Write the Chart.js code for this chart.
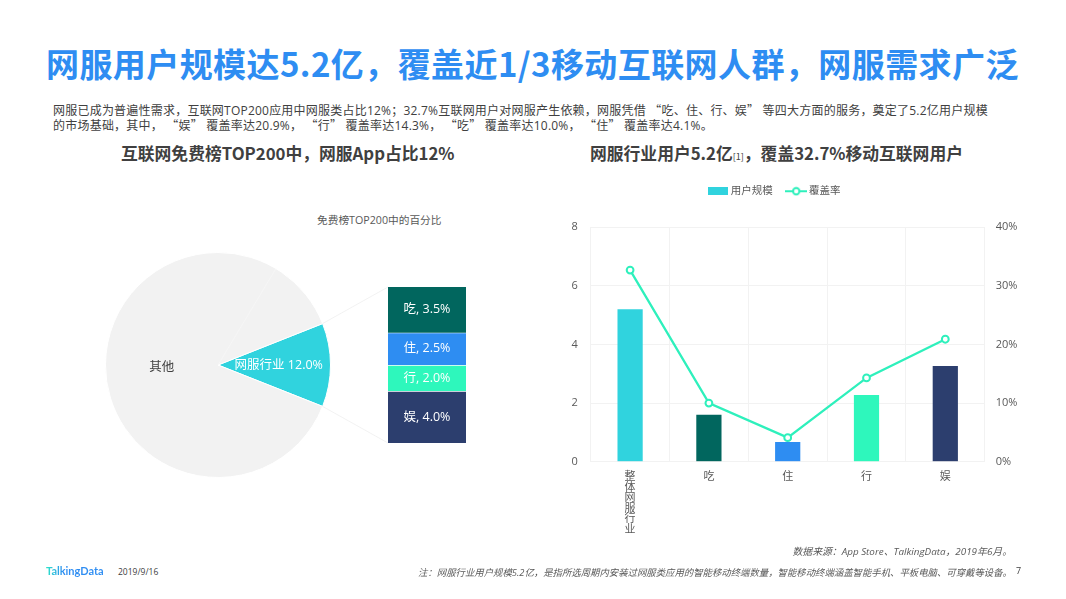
<!DOCTYPE html>
<html>
<head>
<meta charset="utf-8">
<script src="https://cdn.jsdelivr.net/npm/chart.js@4"></script>
<style>
html, body { margin: 0; padding: 0; background: #fff; width: 1066px; height: 599px; overflow: hidden; }
body { font-family: "Open Sans", "Noto Sans CJK SC", sans-serif; color: #404040; }
.t { position: absolute; white-space: nowrap; }
canvas { position: absolute; }
#title { left: 46px; top: 39px; font-size: 33px; letter-spacing: 0.42px; line-height: 48px; font-weight: 700; color: #2E8DF2; font-family: "Noto Sans CJK SC", sans-serif; }
#intro { left: 53px; top: 103px; font-size: 12px; letter-spacing: 0.22px; line-height: 14px; color: #404040; }
#intro i { font-style: normal; font-family: "Noto Sans CJK SC", sans-serif; }
.sub { font-size: 16.8px; line-height: 22px; font-weight: 700; top: 142px; color: #404040; font-family: "Noto Sans CJK SC", sans-serif; }
.sub small { font-size: 9px; font-weight: 400; }
#pieTitle { left: 317px; top: 213px; font-size: 10.7px; line-height: 14px; color: #595959; }
#logo { left: 46px; top: 563px; font-size: 11px; line-height: 16px; font-weight: 700; font-family: Lato, sans-serif;
  background: linear-gradient(90deg, #2EE6C8, #2E8DF2 30%); -webkit-background-clip: text; background-clip: text; color: transparent; }
#date { left: 118px; top: 565px; font-size: 8.5px; line-height: 14px; color: #404040; }
#source { right: 54px; top: 544px; font-size: 9.85px; line-height: 14px; font-style: italic; color: #595959; }
#note { right: 54px; top: 566px; font-size: 9.4px; line-height: 14px; font-style: italic; color: #595959; }
#page { left: 1016px; top: 564px; font-size: 9px; line-height: 14px; color: #404040; }
</style>
</head>
<body>
<div class="t" id="title">网服用户规模达5.2亿，覆盖近1/3移动互联网人群，网服需求广泛</div>
<div class="t" id="intro">网服已成为普遍性需求，互联网TOP200应用中网服类占比12%；32.7%互联网用户对网服产生依赖，网服凭借 <i>“</i>吃、住、行、娱<i>”</i> 等四大方面的服务，奠定了5.2亿用户规模<br>的市场基础，其中， <i>“</i>娱<i>”</i> 覆盖率达20.9%， <i>“</i>行<i>”</i> 覆盖率达14.3%， <i>“</i>吃<i>”</i> 覆盖率达10.0%， <i>“</i>住<i>”</i> 覆盖率达4.1%。</div>
<div class="t sub" style="left:121px">互联网免费榜TOP200中，网服App占比12%</div>
<div class="t sub" style="left:590px">网服行业用户5.2亿<small>[1]</small>，覆盖32.7%移动互联网用户</div>
<div class="t" id="pieTitle">免费榜TOP200中的百分比</div>

<canvas id="pieChart" style="left:105px;top:252px;width:360px;height:226px" width="360" height="226"></canvas>
<canvas id="stackChart" style="left:388px;top:287px;width:78px;height:156px" width="78" height="156"></canvas>
<canvas id="comboChart" style="left:530px;top:170px;width:491px;height:375px" width="491" height="375"></canvas>

<div class="t" id="logo">TalkingData</div>
<div class="t" id="date">2019/9/16</div>
<div class="t" id="source">数据来源：App Store、TalkingData，2019年6月。</div>
<div class="t" id="note">注：网服行业用户规模5.2亿，是指所选周期内安装过网服类应用的智能移动终端数量，智能移动终端涵盖智能手机、平板电脑、可穿戴等设备。</div>
<div class="t" id="page">7</div>

<script>
// Data
const pieLabels = ['网服行业', '其他'];
const pieValues = [12, 88];
const pieColors = ['#30D3DE', '#F2F2F2'];

const stackLabels = ['吃', '住', '行', '娱'];
const stackValues = [3.5, 2.5, 2.0, 4.0];
const stackColors = ['#01665E', '#2E8DF2', '#2EF7BC', '#2C3E6E'];

const categories = ['整体网服行业', '吃', '住', '行', '娱'];
const userScale = [5.2, 1.6, 0.67, 2.28, 3.27];
const coverage = [32.7, 10.0, 4.1, 14.3, 20.9];
const barColors = ['#30D3DE', '#01665E', '#2E8DF2', '#2EF7BC', '#2C3E6E'];
const leftTicks = [0, 2, 4, 6, 8];
const rightTicks = [0, 10, 20, 30, 40];

const fontFamily = '"Open Sans", "Noto Sans CJK SC", sans-serif';
const lineColor = '#2EF0BC';
const gridColor = '#F2F2F2';
const tickColor = '#595959';

Chart.defaults.animation = false;
Chart.defaults.responsive = false;
Chart.defaults.font.family = fontFamily;

// Stacked column that breaks down the wedge
const stackChart = new Chart(document.getElementById('stackChart'), {
    type: 'bar',
    data: {
        labels: ['网服行业'],
        datasets: stackLabels.map((label, i) => ({
            label: label,
            data: [stackValues[i]],
            backgroundColor: stackColors[i],
            borderColor: '#fff',
            borderWidth: { top: i ? 1 : 0, bottom: 0, left: 0, right: 0 },
            borderSkipped: false,
            barPercentage: 1,
            categoryPercentage: 1
        }))
    },
    options: {
        plugins: { legend: { display: false }, tooltip: { enabled: false } },
        layout: { padding: 0 },
        scales: {
            x: { display: false, stacked: true },
            y: { display: false, stacked: true, reverse: true, min: 0, max: 12 }
        }
    },
    plugins: [{
        id: 'stackText',
        afterDatasetsDraw(chart) {
            const ctx = chart.ctx;
            ctx.save();
            ctx.font = '12.5px ' + fontFamily;
            ctx.fillStyle = '#fff';
            ctx.textAlign = 'center';
            ctx.textBaseline = 'middle';
            stackLabels.forEach((label, i) => {
                const p = chart.getDatasetMeta(i).data[0].getCenterPoint();
                ctx.fillText(label + ', ' + stackValues[i].toFixed(1) + '%', p.x, p.y);
            });
            ctx.restore();
        }
    }]
});

// Pie, turned so that the wedge points at the column
const pieChart = new Chart(document.getElementById('pieChart'), {
    type: 'pie',
    data: {
        labels: pieLabels,
        datasets: [{
            data: pieValues,
            backgroundColor: pieColors,
            borderColor: '#fff',
            borderWidth: 1
        }]
    },
    options: {
        rotation: 90 - pieValues[0] * 1.8,
        layout: { padding: { right: 134 } },
        plugins: { legend: { display: false }, tooltip: { enabled: false } }
    },
    plugins: [{
        id: 'pieExtras',
        afterDatasetsDraw(chart) {
            const ctx = chart.ctx;
            const wedge = chart.getDatasetMeta(0).data[0];
            const rest = chart.getDatasetMeta(0).data[1];
            const a = wedge.getProps(['x', 'y', 'startAngle', 'endAngle', 'outerRadius']);
            const first = stackChart.getDatasetMeta(0).data[0];
            const last = stackChart.getDatasetMeta(stackLabels.length - 1).data[0];
            const dx = stackChart.canvas.offsetLeft - chart.canvas.offsetLeft;
            const dy = stackChart.canvas.offsetTop - chart.canvas.offsetTop;

            // connectors from the wedge to the corners of the column
            ctx.save();
            ctx.strokeStyle = '#EDEDED';
            ctx.lineWidth = 0.75;
            ctx.beginPath();
            ctx.moveTo(a.x + Math.cos(a.startAngle) * a.outerRadius, a.y + Math.sin(a.startAngle) * a.outerRadius);
            ctx.lineTo(dx + first.x - first.width / 2, dy + first.base);
            ctx.moveTo(a.x + Math.cos(a.endAngle) * a.outerRadius, a.y + Math.sin(a.endAngle) * a.outerRadius);
            ctx.lineTo(dx + last.x - last.width / 2, dy + last.y);
            ctx.stroke();

            // faint seam in the grey part
            const seam = -59 * Math.PI / 180;
            ctx.strokeStyle = '#F7F7F7';
            ctx.beginPath();
            ctx.moveTo(a.x, a.y);
            ctx.lineTo(a.x + Math.cos(seam) * a.outerRadius, a.y + Math.sin(seam) * a.outerRadius);
            ctx.stroke();

            ctx.font = '12.5px ' + fontFamily;
            ctx.textAlign = 'center';
            ctx.textBaseline = 'middle';
            const mid = (a.startAngle + a.endAngle) / 2;
            ctx.fillStyle = '#fff';
            ctx.fillText(pieLabels[0] + ' ' + pieValues[0].toFixed(1) + '%',
                a.x + Math.cos(mid) * a.outerRadius * 0.54, a.y + Math.sin(mid) * a.outerRadius * 0.54);
            const r = rest.getProps(['startAngle', 'endAngle']);
            const midRest = (r.startAngle + r.endAngle) / 2;
            ctx.fillStyle = '#404040';
            ctx.fillText(pieLabels[1], a.x + Math.cos(midRest) * a.outerRadius * 0.5, a.y + Math.sin(midRest) * a.outerRadius * 0.5 + 2);
            ctx.restore();
        }
    }]
});

// Legend glyphs
function legendBox() {
    const c = document.createElement('canvas');
    c.width = 20; c.height = 8;
    const g = c.getContext('2d');
    g.fillStyle = barColors[0];
    g.fillRect(0, 0, 20, 8);
    return c;
}
function legendLine() {
    const c = document.createElement('canvas');
    c.width = 22; c.height = 10;
    const g = c.getContext('2d');
    g.strokeStyle = lineColor;
    g.lineWidth = 2;
    g.beginPath(); g.moveTo(0, 5); g.lineTo(22, 5); g.stroke();
    g.fillStyle = '#fff';
    g.beginPath(); g.arc(11, 5, 3.2, 0, Math.PI * 2); g.fill(); g.stroke();
    return c;
}

// Bars + coverage line
const comboChart = new Chart(document.getElementById('comboChart'), {
    type: 'bar',
    data: {
        labels: categories,
        datasets: [
            {
                type: 'line',
                label: '覆盖率',
                data: coverage,
                yAxisID: 'y1',
                borderColor: lineColor,
                borderWidth: 2.3,
                tension: 0,
                pointRadius: 3.4,
                pointBackgroundColor: '#fff',
                pointBorderColor: lineColor,
                pointBorderWidth: 2,
                order: 1
            },
            {
                label: '用户规模',
                data: userScale,
                yAxisID: 'y',
                backgroundColor: barColors,
                barPercentage: 0.32,
                categoryPercentage: 1,
                order: 2
            }
        ]
    },
    options: {
        layout: { padding: 0 },
        plugins: {
            tooltip: { enabled: false },
            legend: {
                position: 'top',
                labels: {
                    usePointStyle: true,
                    pointStyleWidth: 15,
                    padding: 16,
                    color: tickColor,
                    font: { size: 10.5 },
                    generateLabels: () => [
                        { text: '用户规模', pointStyle: legendBox(), fontColor: tickColor, lineWidth: 0, datasetIndex: 1 },
                        { text: '覆盖率', pointStyle: legendLine(), fontColor: tickColor, lineWidth: 0, datasetIndex: 0 }
                    ]
                }
            }
        },
        scales: {
            x: {
                grid: { color: gridColor, drawTicks: false },
                border: { color: gridColor },
                afterFit: s => { s.height = 83.3; },
                ticks: {
                    color: tickColor,
                    font: { size: 11, lineHeight: 0.96 },
                    padding: 10,
                    maxRotation: 0,
                    autoSkip: false,
                    callback(value) {
                        const text = this.getLabelForValue(value);
                        return text.length > 1 ? text.split('') : text;
                    }
                }
            },
            y: {
                position: 'left',
                min: leftTicks[0],
                max: leftTicks[leftTicks.length - 1],
                afterFit: s => { s.width = 60.7; },
                afterBuildTicks: s => { s.ticks = leftTicks.map(v => ({ value: v })); },
                grid: { color: gridColor, drawTicks: false },
                border: { color: gridColor },
                ticks: { color: tickColor, font: { size: 11 }, padding: 13 }
            },
            y1: {
                position: 'right',
                min: rightTicks[0],
                max: rightTicks[rightTicks.length - 1],
                afterFit: s => { s.width = 36.3; },
                afterBuildTicks: s => { s.ticks = rightTicks.map(v => ({ value: v })); },
                grid: { drawOnChartArea: false, drawTicks: false },
                border: { color: gridColor },
                ticks: { color: tickColor, font: { size: 11 }, padding: 11, callback: v => v + '%' }
            }
        }
    },
    plugins: [{
        // extra room between the legend and the plot
        id: 'legendGap',
        beforeLayout(chart) {
            const legend = chart.legend;
            if (legend.gapAdded) return;
            legend.gapAdded = true;
            const fit = legend.fit;
            legend.fit = function () {
                fit.call(this);
                this.height = 57.3;
            };
        }
    }]
});
</script>
</body>
</html>
